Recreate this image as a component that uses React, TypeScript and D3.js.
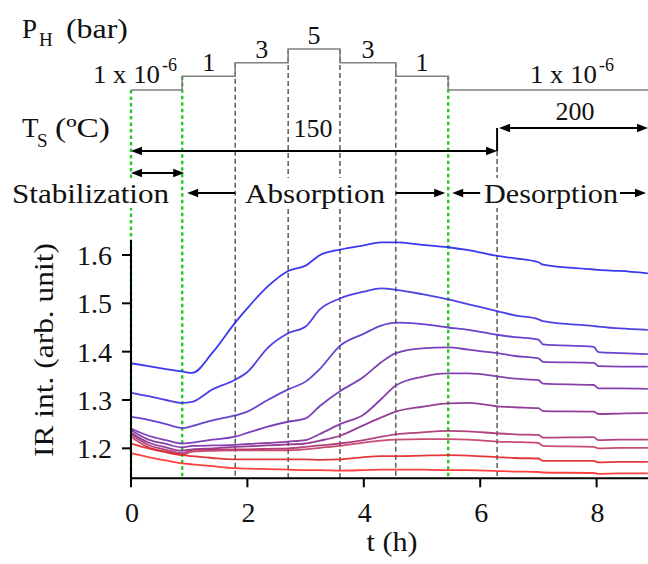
import React from "react";
import * as d3 from "d3";

// ---- data ----
const times = [0, 0.3, 0.6, 0.88, 1.05, 1.4, 1.79, 2.0, 2.35, 2.7, 3.0, 3.25, 3.59, 4.0, 4.3, 4.55, 5.0, 5.45, 5.8, 6.29, 6.6, 7.0, 7.08, 7.95, 8.03, 8.4, 8.88];

const series1 = [1.376, 1.370, 1.364, 1.359, 1.356, 1.398, 1.460, 1.490, 1.535, 1.567, 1.578, 1.600, 1.611, 1.620, 1.626, 1.626, 1.621, 1.616, 1.610, 1.598, 1.593, 1.585, 1.580, 1.570, 1.569, 1.567, 1.562];
const series2 = [1.315, 1.308, 1.300, 1.294, 1.296, 1.322, 1.342, 1.358, 1.408, 1.438, 1.452, 1.488, 1.510, 1.524, 1.531, 1.528, 1.519, 1.508, 1.498, 1.484, 1.475, 1.467, 1.463, 1.453, 1.452, 1.448, 1.445];
const series3 = [1.265, 1.259, 1.250, 1.242, 1.246, 1.258, 1.268, 1.276, 1.300, 1.322, 1.338, 1.365, 1.412, 1.437, 1.454, 1.460, 1.457, 1.450, 1.445, 1.435, 1.430, 1.425, 1.415, 1.410, 1.399, 1.397, 1.395];
const series4 = [1.241, 1.226, 1.217, 1.210, 1.212, 1.218, 1.224, 1.232, 1.245, 1.255, 1.262, 1.288, 1.318, 1.348, 1.378, 1.397, 1.407, 1.409, 1.404, 1.397, 1.391, 1.386, 1.379, 1.377, 1.370, 1.369, 1.369];
const series5 = [1.238, 1.218, 1.209, 1.202, 1.205, 1.206, 1.207, 1.209, 1.211, 1.214, 1.217, 1.230, 1.250, 1.270, 1.302, 1.330, 1.348, 1.355, 1.355, 1.349, 1.344, 1.341, 1.334, 1.331, 1.324, 1.324, 1.323];
const series6 = [1.233, 1.212, 1.202, 1.195, 1.198, 1.200, 1.203, 1.204, 1.206, 1.208, 1.210, 1.216, 1.226, 1.248, 1.264, 1.276, 1.286, 1.293, 1.294, 1.287, 1.285, 1.283, 1.277, 1.276, 1.271, 1.272, 1.273];
const series7 = [1.229, 1.207, 1.197, 1.190, 1.197, 1.198, 1.198, 1.198, 1.199, 1.200, 1.203, 1.206, 1.210, 1.217, 1.224, 1.229, 1.233, 1.236, 1.235, 1.231, 1.229, 1.228, 1.222, 1.223, 1.217, 1.218, 1.218];
const series8 = [1.224, 1.202, 1.193, 1.187, 1.193, 1.195, 1.196, 1.196, 1.196, 1.196, 1.198, 1.201, 1.205, 1.212, 1.216, 1.218, 1.219, 1.219, 1.218, 1.214, 1.213, 1.211, 1.205, 1.203, 1.200, 1.201, 1.201];
const series9 = [1.210, 1.200, 1.192, 1.186, 1.184, 1.180, 1.177, 1.177, 1.177, 1.177, 1.177, 1.176, 1.177, 1.182, 1.184, 1.184, 1.185, 1.186, 1.185, 1.182, 1.180, 1.179, 1.174, 1.174, 1.171, 1.172, 1.172];
const series10 = [1.190, 1.182, 1.175, 1.169, 1.167, 1.163, 1.159, 1.158, 1.157, 1.156, 1.155, 1.155, 1.154, 1.155, 1.156, 1.156, 1.156, 1.155, 1.155, 1.153, 1.152, 1.151, 1.150, 1.149, 1.147, 1.148, 1.148];

const allSeries = [series1, series2, series3, series4, series5, series6, series7, series8, series9, series10];
const palette = ["#2323ee", "#3a2ce0", "#5a2fc8", "#6c2db2", "#7b2ca2", "#8a2a8c", "#a93072", "#c23a62", "#de2424", "#ff2c2c"];

const xTicks = [0, 2, 4, 6, 8];
const yTicks = [1.2, 1.3, 1.4, 1.5, 1.6];

const eventTimes = [0, 0.88, 1.79, 2.7, 3.59, 4.55, 5.45, 6.29];
const eventKinds = ["green", "green", "black", "black", "black", "black", "green", "black"];

const pressureStarts = [0, 0.88, 1.79, 2.7, 3.59, 4.55, 5.45];
const pressureValues = ["1e-6", "1", "3", "5", "3", "1", "1e-6"];
const pressureOrder = ["1e-6", "1", "3", "5"];
const tempLabels = ["150", "200"];
const phaseLabels = ["Stabilization", "Absorption", "Desorption"];

// ---- layout ----
const W = 648, H = 564;
const x = d3.scaleLinear().domain([0, 8.9]).range([131, 649]);
const y = d3.scaleLinear().domain([1.138, 1.631]).range([478.3, 240]);
const pY = d3.scalePoint<string>().domain(pressureOrder).range([90, 49]);

const GREEN = "#22cc22";
const tsY = 151, ts2Y = 128, stabY = 173, phaseY = 193, labelY = 203;
const serif: React.CSSProperties = { fontFamily: '"Liberation Serif", "Times New Roman", serif' };

function T(props: any) {
  return <text fill="#111" style={serif} {...props} />;
}

function Head({ x0, y0, dir }: { x0: number; y0: number; dir: number }) {
  const pts = [[x0, y0], [x0 - dir * 11, y0 - 4.2], [x0 - dir * 11, y0 + 4.2]];
  return <polygon points={pts.map(p => p.join(",")).join(" ")} fill="#000" />;
}

function Arrow({ x1, x2, yy, left, right }: { x1: number; x2: number; yy: number; left?: boolean; right?: boolean }) {
  return (
    <g>
      <line x1={left ? x1 + 6 : x1} x2={right ? x2 - 6 : x2} y1={yy} y2={yy} stroke="#000" strokeWidth={2} />
      {left && <Head x0={x1} y0={yy} dir={-1} />}
      {right && <Head x0={x2} y0={yy} dir={1} />}
    </g>
  );
}

export default function App() {
  const line = d3.line<number>().curve(d3.curveMonotoneX).x((_, i) => x(times[i])).y(d => y(d));

  const stepPts: [number, number][] = pressureStarts.map((t, i) => [x(t), pY(pressureValues[i])!]);
  stepPts.push([W, pY(pressureValues[pressureValues.length - 1])!]);
  const stepPath = d3.line().curve(d3.curveStepAfter)(stepPts) || "";

  const eventTop = (i: number) => {
    if (i === 0) return pY(pressureValues[0])!;
    if (i < pressureValues.length) return Math.min(pY(pressureValues[i - 1])!, pY(pressureValues[i])!);
    return tsY;
  };

  const segMid = (i: number) => (x(pressureStarts[i]) + x(pressureStarts[i + 1])) / 2;

  return (
    <svg width={W} height={H} style={{ position: "absolute", left: 0, top: 0, background: "#fff" }}>
      <rect width={W} height={H} fill="#fff" />
      {/* vertical event lines */}
      {eventTimes.map((t, i) => (
        <line key={i} x1={x(t)} x2={x(t)} y1={eventTop(i)} y2={y(1.138)}
          stroke={eventKinds[i] === "green" ? GREEN : "#333"}
          strokeWidth={eventKinds[i] === "green" ? 2.4 : 1.2}
          strokeDasharray={eventKinds[i] === "green" ? "3.5 3" : "5 3"} />
      ))}
      {/* pressure step line */}
      <path d={stepPath} fill="none" stroke="#808080" strokeWidth={1.5} />

      {/* header labels */}
      <T x={22} y={38} fontSize={27}>P</T>
      <T x={39} y={46} fontSize={19}>H</T>
      <T x={66} y={38} fontSize={27} textLength={62} lengthAdjust="spacingAndGlyphs">(bar)</T>

      <T x={93} y={83} fontSize={26} textLength={67} lengthAdjust="spacingAndGlyphs">1 x 10</T>
      <T x={162} y={71} fontSize={18}>-6</T>
      {[1, 2, 3, 4, 5].map(i => (
        <T key={i} x={segMid(i)} y={pY(pressureValues[i])! - 5} fontSize={26} textAnchor="middle">
          {pressureValues[i]}
        </T>
      ))}
      <T x={530} y={83} fontSize={26} textLength={67} lengthAdjust="spacingAndGlyphs">1 x 10</T>
      <T x={599} y={71} fontSize={18}>-6</T>

      <T x={22} y={137} fontSize={27}>T</T>
      <T x={37} y={147} fontSize={19}>S</T>
      <T x={55} y={137} fontSize={27} textLength={55} lengthAdjust="spacingAndGlyphs">(ºC)</T>
      <T x={313} y={137} fontSize={26} textAnchor="middle">{tempLabels[0]}</T>
      <T x={575} y={120} fontSize={26} textAnchor="middle">{tempLabels[1]}</T>

      {/* temperature arrows */}
      <Arrow x1={x(0)} x2={x(6.29)} yy={tsY} left right />
      <line x1={x(6.29)} x2={x(6.29)} y1={tsY} y2={ts2Y} stroke="#000" strokeWidth={2} />
      <Arrow x1={x(6.29) + 2} x2={W} yy={ts2Y} left right />

      {/* phase arrows & labels */}
      <Arrow x1={x(0)} x2={x(0.88) + 2} yy={stabY} left right />
      <rect x={10} y={178} width={161} height={30} fill="#fff" />
      <rect x={243} y={178} width={145} height={30} fill="#fff" />
      <rect x={481} y={178} width={139} height={30} fill="#fff" />
      <T x={12} y={labelY} fontSize={27} textLength={157} lengthAdjust="spacingAndGlyphs">{phaseLabels[0]}</T>
      <T x={245} y={labelY} fontSize={27} textLength={140} lengthAdjust="spacingAndGlyphs">{phaseLabels[1]}</T>
      <T x={484} y={labelY} fontSize={27} textLength={134} lengthAdjust="spacingAndGlyphs">{phaseLabels[2]}</T>
      <Arrow x1={x(0.88) + 5} x2={x(1.79)} yy={phaseY} left />
      <Arrow x1={x(4.55)} x2={x(5.45) - 3} yy={phaseY} right />
      <Arrow x1={x(5.45) + 4} x2={x(5.45) + 32} yy={phaseY} left />
      <Arrow x1={620} x2={646} yy={phaseY} right />

      {/* curves */}
      {allSeries.map((s, i) => (
        <path key={i} d={line(s) || ""} fill="none" stroke={palette[i]} strokeWidth={1.8} strokeOpacity={0.9} strokeLinejoin="round" />
      ))}

      {/* axes */}
      <line x1={x(0)} x2={x(0)} y1={240} y2={y(1.138)} stroke="#000" strokeWidth={2} />
      <line x1={x(0) - 1} x2={W} y1={y(1.138)} y2={y(1.138)} stroke="#000" strokeWidth={2} />
      {yTicks.map(v => (
        <g key={v}>
          <line x1={x(0) - 9} x2={x(0)} y1={y(v)} y2={y(v)} stroke="#000" strokeWidth={2} />
          <T x={112} y={y(v) + 10} fontSize={28} textAnchor="end">{v.toFixed(1)}</T>
        </g>
      ))}
      {xTicks.map(v => (
        <g key={v}>
          <line x1={x(v)} x2={x(v)} y1={y(1.138)} y2={y(1.138) + 9} stroke="#000" strokeWidth={2} />
          <T x={x(v) + 1} y={522} fontSize={28} textAnchor="middle">{v}</T>
        </g>
      ))}
      <T x={392} y={551} fontSize={27} textAnchor="middle" textLength={51} lengthAdjust="spacingAndGlyphs">t (h)</T>
      <T transform="translate(53,350) rotate(-90)" fontSize={27} textAnchor="middle" textLength={214} lengthAdjust="spacingAndGlyphs">IR int. (arb. unit)</T>
    </svg>
  );
}
